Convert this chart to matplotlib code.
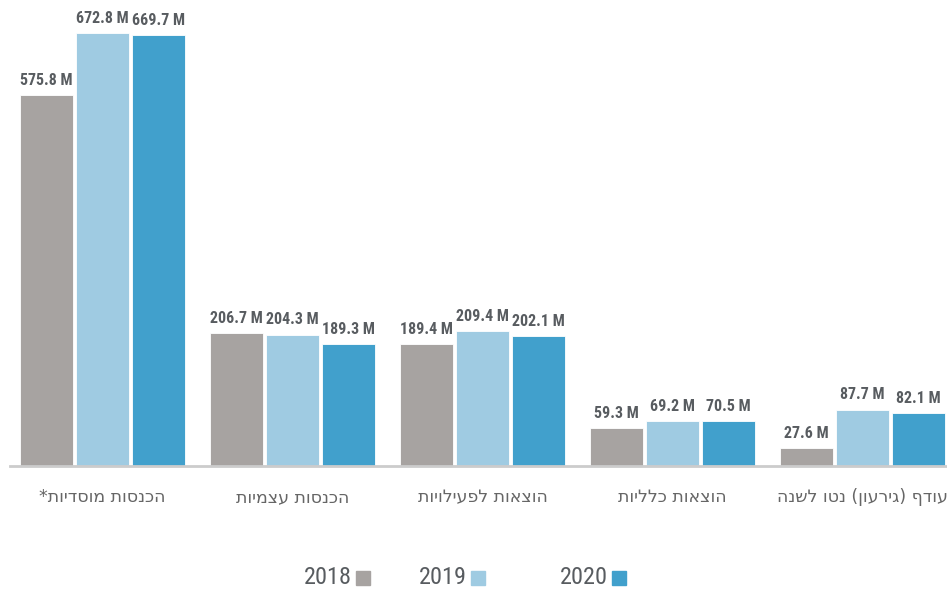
import matplotlib
matplotlib.use("Agg")
import matplotlib.pyplot as plt
from matplotlib import font_manager as fm
from matplotlib.patches import Rectangle

categories = ["הכנסות מוסדיות*", "הכנסות עצמיות", "הוצאות לפעילויות",
              "הוצאות כלליות", "עודף (גירעון) נטו לשנה"]
years = ["2018", "2019", "2020"]
v2018 = [575.8, 206.7, 189.4, 59.3, 27.6]
v2019 = [672.8, 204.3, 209.4, 69.2, 87.7]
v2020 = [669.7, 189.3, 202.1, 70.5, 82.1]
colors = ["#a7a3a1", "#9fcbe2", "#41a0cc"]


def rtl(s):
    # matplotlib has no bidi support, so flip the string and mirror brackets
    return s[::-1].translate(str.maketrans("()", ")("))


names = {f.name for f in fm.fontManager.ttflist}
heb_font = dict(family="DejaVu Sans")
if "Roboto Condensed" in names:
    num_font = dict(family="Roboto Condensed")
    num_size, leg_size = 11.5, 17.5
elif "Liberation Sans Narrow" in names:
    num_font = dict(family="Liberation Sans Narrow")
    num_size, leg_size = 11.5, 17.5
else:
    num_font = heb_font
    num_size, leg_size = 10, 16

text_color = "#585c60"

fig = plt.figure(figsize=(9.47, 5.91), dpi=100)
ax = fig.add_axes([10 / 947, 125 / 591, 937 / 947, 466 / 591])

series = [v2018, v2019, v2020]
width = 0.279
step = 0.295
x = list(range(len(categories)))
for k, vals in enumerate(series):
    pos = [i + (k - 1) * step for i in x]
    bars = ax.bar(pos, vals, width=width, color=colors[k], edgecolor="white",
                  linewidth=0.6)
    for b, v in zip(bars, vals):
        ax.text(b.get_x() + b.get_width() / 2, v + 11, f"{v:.1f} M",
                ha="center", va="bottom", fontsize=num_size,
                fontweight="bold", color=text_color, **num_font)

ax.set_xlim(-0.487, 4.445)
ax.set_ylim(0, 724)
ax.set_xticks(x)
ax.set_xticklabels([rtl(c) for c in categories], fontsize=12.5,
                   color="#666666", **heb_font)
ax.tick_params(axis="x", length=0, pad=16)
ax.set_yticks([])
for side in ["top", "right", "left"]:
    ax.spines[side].set_visible(False)
ax.spines["bottom"].set_color("#cccccc")
ax.spines["bottom"].set_linewidth(2)

# legend: year text followed by a colour square
legend_right = [352, 467, 608]
for yr, c, xr in zip(years, colors, legend_right):
    fig.text(xr / 947, 1 - 577 / 591, yr, ha="right", va="center",
             fontsize=leg_size, color=text_color, **num_font)
    fig.patches.append(Rectangle(((xr + 4) / 947, 1 - 585 / 591), 14 / 947,
                                 14 / 591, transform=fig.transFigure,
                                 color=c))

fig.savefig("out.png", dpi=100)
